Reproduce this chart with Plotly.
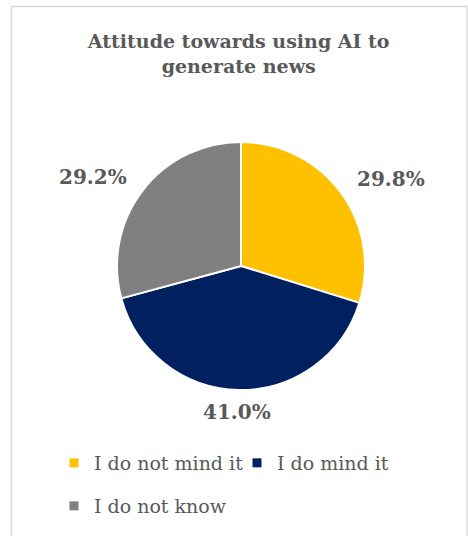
import math
import plotly.graph_objects as go

categories = ["I do not mind it", "I do mind it", "I do not know"]
shares = [29.8, 41.0, 29.2]
colors = ["#FFC000", "#002060", "#808080"]

W, H = 468, 536
FONT = "DejaVu Serif"
TXT = "#595959"

# pie placement (pixels)
CX, CY, R = 241, 266, 124

fig = go.Figure()
fig.add_trace(
    go.Pie(
        labels=categories,
        values=shares,
        sort=False,
        direction="clockwise",
        rotation=0,
        marker=dict(colors=colors, line=dict(color="white", width=2)),
        textinfo="none",
        hoverinfo="label+percent",
        showlegend=False,
        domain=dict(x=[(CX - R) / W, (CX + R) / W], y=[1 - (CY + R) / H, 1 - (CY - R) / H]),
    )
)

# value labels placed just outside each slice, along its mid angle
total = sum(shares)
start = 0.0
for v in shares:
    mid = math.radians((start + v / 2) / total * 360)
    start += v
    ux, uy = math.sin(mid), -math.cos(mid)
    px = CX + ux * (R + 62)
    py = CY + uy * (R + 22)
    fig.add_annotation(
        x=px / W, y=1 - py / H, xref="paper", yref="paper",
        text=f"<b>{v:.1f}%</b>", showarrow=False,
        xanchor="center", yanchor="middle",
        font=dict(family=FONT, size=20, color=TXT),
    )

# legend entries: two on the first row, one on the second
legend_of = ["legend", "legend", "legend2"]
for name, col, lg in zip(categories, colors, legend_of):
    fig.add_trace(
        go.Scatter(
            x=[None], y=[None], mode="markers", name=name, legend=lg,
            marker=dict(symbol="square", size=9, color=col),
            hoverinfo="skip",
        )
    )

legend_style = dict(
    orientation="h",
    xanchor="left",
    yanchor="middle",
    font=dict(family=FONT, size=19, color=TXT),
    bgcolor="rgba(0,0,0,0)",
    itemwidth=30,
    itemclick=False,
    itemdoubleclick=False,
)

fig.update_layout(
    width=W,
    height=H,
    margin=dict(l=0, r=0, t=0, b=0),
    paper_bgcolor="white",
    plot_bgcolor="white",
    xaxis=dict(visible=False),
    yaxis=dict(visible=False),
    title=dict(
        text="<b>Attitude towards using AI to<br>generate news</b>",
        x=0.51,
        xanchor="center",
        y=1 - 48 / H,
        yanchor="top",
        font=dict(family=FONT, size=19, color=TXT),
    ),
    legend=dict(legend_style, x=54 / W, y=1 - 463 / H, entrywidth=138),
    legend2=dict(legend_style, x=54 / W, y=1 - 506 / H),
    shapes=[
        dict(
            type="rect",
            xref="paper",
            yref="paper",
            x0=11.5 / W,
            x1=467 / W,
            y0=-0.05,
            y1=1 - 6.5 / H,
            line=dict(color="#D9D9D9", width=1.5),
            layer="below",
        )
    ],
)

fig.write_html("out.html")
